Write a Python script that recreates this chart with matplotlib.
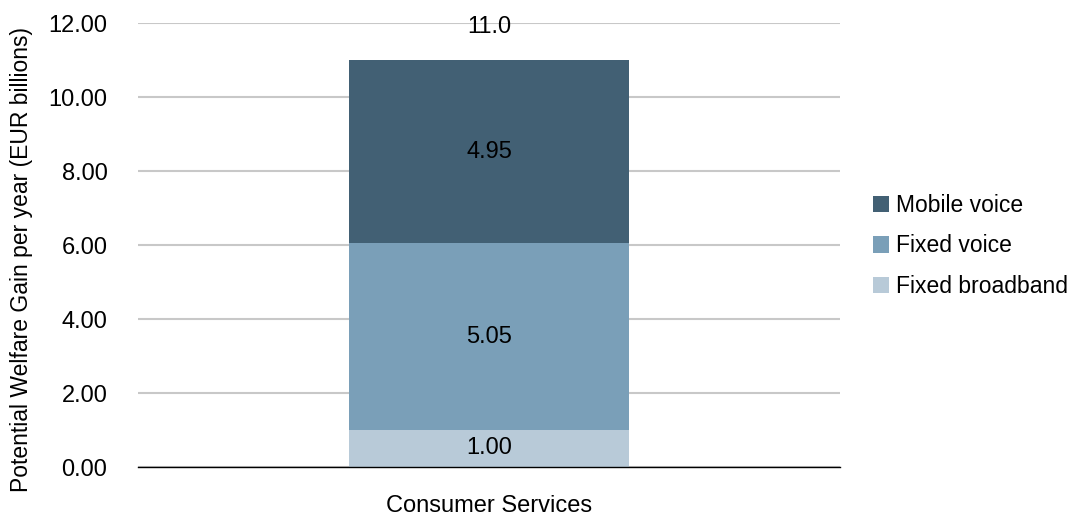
import matplotlib
matplotlib.use("Agg")
import matplotlib.pyplot as plt

categories = ["Consumer Services"]
series_names = ["Fixed broadband", "Fixed voice", "Mobile voice"]
fixed_broadband = [1.00]
fixed_voice = [5.05]
mobile_voice = [4.95]
totals = [11.0]
colors = ["#B8CAD8", "#7A9FB8", "#426074"]

plt.rcParams["font.family"] = ["Liberation Sans", "DejaVu Sans"]
FS = 17

fig = plt.figure(figsize=(10.83, 5.19), dpi=100)
ax = fig.add_axes([138 / 1083, 1 - 467 / 519, 702 / 1083, 444 / 519])

x = list(range(len(categories)))
bottom = [0.0] * len(categories)
bars = []
for name, vals, col in zip(series_names, [fixed_broadband, fixed_voice, mobile_voice], colors):
    b = ax.bar(x, vals, width=0.4, bottom=bottom, color=col, label=name, zorder=3)
    bars.append(b)
    for xi, v, bt in zip(x, vals, bottom):
        ax.text(xi, bt + v / 2, f"{v:.2f}", ha="center", va="center", fontsize=FS, color="#000000", zorder=4)
    bottom = [bt + v for bt, v in zip(bottom, vals)]

for xi, t in zip(x, totals):
    ax.annotate(f"{t:.1f}", (xi, t), xytext=(0, 24), textcoords="offset points",
                ha="center", va="center", fontsize=FS)

ax.set_xlim(-0.5, 0.5)
ax.set_ylim(0, 12)
ax.set_yticks([0, 2, 4, 6, 8, 10, 12])
ax.set_yticklabels([f"{v:.2f}" for v in [0, 2, 4, 6, 8, 10, 12]], fontsize=FS)
ax.set_xticks(x)
ax.set_xticklabels(categories, fontsize=FS)
ax.tick_params(axis="both", length=0)
ax.tick_params(axis="y", pad=22)
ax.tick_params(axis="x", pad=20)
ax.grid(axis="y", color="#C8C8C8", linewidth=1.5, zorder=0)
for s in ["top", "right", "left"]:
    ax.spines[s].set_visible(False)
ax.spines["bottom"].set_color("#000000")
ax.spines["bottom"].set_linewidth(1.0)
ax.spines["bottom"].set_zorder(5)
ax.set_ylabel("Potential Welfare Gain per year (EUR billions)", fontsize=16.5)
ax.yaxis.set_label_coords(-0.150, 0.468)

handles = [bars[2], bars[1], bars[0]]
labels = [series_names[2], series_names[1], series_names[0]]
fig.legend(handles, labels, loc="center left", bbox_to_anchor=(852 / 1083, 1 - 246 / 519),
           frameon=False, fontsize=16.5, handlelength=0.7, handleheight=0.7,
           handletextpad=0.3, labelspacing=0.78)

fig.savefig("out.png", dpi=100)
